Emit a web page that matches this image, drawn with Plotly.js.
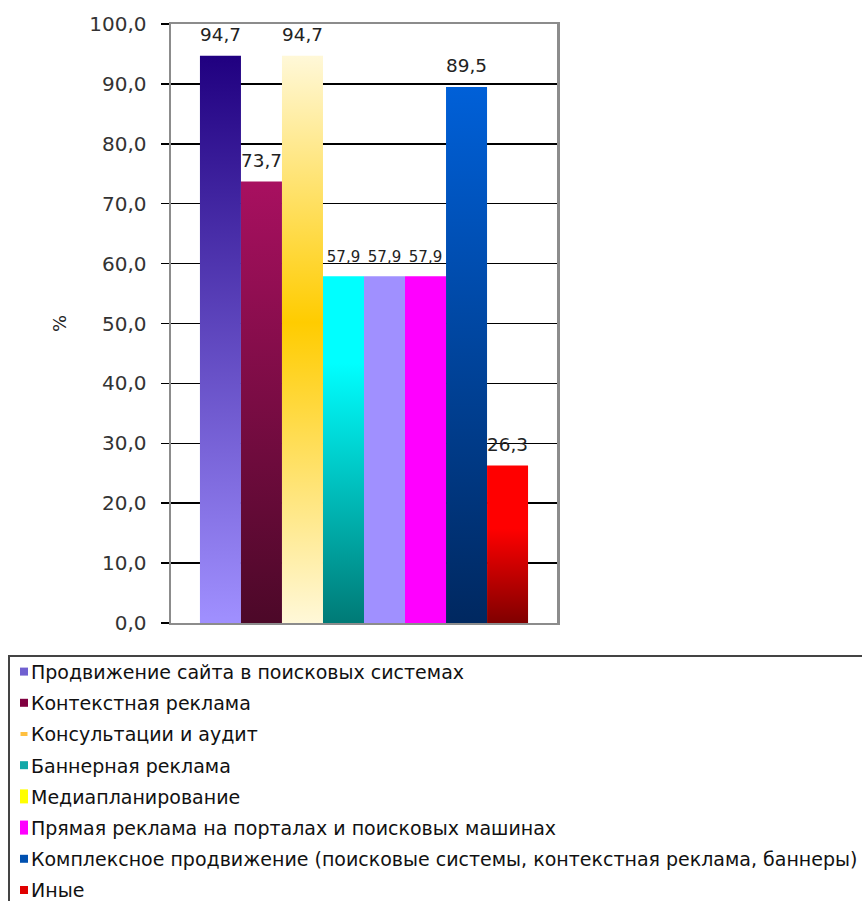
<!DOCTYPE html>
<html>
<head>
<meta charset="utf-8">
<script src="https://cdn.plot.ly/plotly-3.0.1.min.js"></script>
<style>
  html, body { margin: 0; padding: 0; background: #fff; overflow: hidden; }
  #chart { width: 862px; height: 901px; }
</style>
</head>
<body>
<div id="chart"></div>
<script>
// ---- data ----
const seriesNames = [
  "Продвижение сайта в поисковых системах",
  "Контекстная реклама",
  "Консультации и аудит",
  "Баннерная реклама",
  "Медиапланирование",
  "Прямая реклама на порталах и поисковых машинах",
  "Комплексное продвижение (поисковые системы, контекстная реклама, баннеры)",
  "Иные"
];
const seriesValues = [94.7, 73.7, 94.7, 57.9, 57.9, 57.9, 89.5, 26.3];
const yTickValues = [0, 10, 20, 30, 40, 50, 60, 70, 80, 90, 100];

// ---- styles ----
const baseColors = ["#6a58c8", "#8a1050", "#ffd84a", "#00c0c0", "#a090ff", "#ff00ff", "#0048a8", "#e00000"];
const legendColors = ["#7060d0", "#800040", "#ffc040", "#10a8a8", "#ffff00", "#ff00ff", "#0050b0", "#e00000"];
const gradientStops = [
  [[0, "#200080"], [1, "#a090ff"]],
  [[0, "#a81060"], [1, "#4c0828"]],
  [[0, "#fff8d8"], [0.47, "#ffcc00"], [1, "#fff8d8"]],
  [[0, "#00ffff"], [0.25, "#00ffff"], [1, "#007a76"]],
  [[0, "#a090ff"], [1, "#a090ff"]],
  [[0, "#ff00ff"], [1, "#ff00ff"]],
  [[0, "#0060d8"], [1, "#002860"]],
  [[0, "#ff0000"], [0.4, "#ff0000"], [1, "#800000"]]
];
const labelSizes = [20, 20, 20, 15, 15, 15, 20, 20];
const legendSymbols = [
  "M4,4H-4V-4H4Z", "M4,4H-4V-4H4Z", "M3.5,2H-3.5V-2H3.5Z", "M4,4H-4V-4H4Z",
  "M4,7H-4V-7H4Z", "M4,7H-4V-7H4Z", "M4,4H-4V-4H4Z", "M4,4H-4V-4H4Z"
];
// legend geometry in page pixels
const legendBox = { left: 8, top: 655 };
const legendFirstCenter = 672, legendStep = 31.2, legendTextLeft = 31, legendSymbolCenter = 24;

const traces = seriesNames.map((name, i) => ({
  type: "bar",
  name: name,
  x: ["cat"],
  y: [seriesValues[i]],
  marker: { color: baseColors[i], line: { width: 0 } },
  text: [seriesValues[i].toFixed(1).replace(".", ",")],
  textposition: "outside",
  cliponaxis: false,
  textfont: { family: "DejaVu Sans", size: labelSizes[i], color: "#222" },
  hoverinfo: "skip"
}));

const layout = {
  width: 862,
  height: 901,
  margin: { l: 168, r: 305, t: 24, b: 277 },
  paper_bgcolor: "#ffffff",
  plot_bgcolor: "#ffffff",
  barmode: "group",
  bargap: 0.15,
  bargroupgap: 0,
  separators: ", ",
  showlegend: true,
  font: { family: "DejaVu Sans", color: "#222" },
  xaxis: {
    showticklabels: false,
    ticks: "",
    showgrid: false,
    zeroline: false,
    showline: true,
    mirror: true,
    linecolor: "#8c8c8c",
    linewidth: 2,
    fixedrange: true
  },
  yaxis: {
    range: [0, 100],
    tickvals: yTickValues,
    tickformat: ".1f",
    ticks: "outside",
    ticklen: 8,
    tickcolor: "#000",
    tickwidth: 1.5,
    ticklabelstandoff: 10,
    tickfont: { family: "DejaVu Sans", size: 20, color: "#333" },
    showgrid: true,
    gridcolor: "#000",
    gridwidth: 1.5,
    zeroline: false,
    showline: true,
    mirror: true,
    linecolor: "#8c8c8c",
    linewidth: 2.5,
    title: { text: "%", font: { family: "DejaVu Sans", size: 18, color: "#222" }, standoff: 18 },
    fixedrange: true
  },
  legend: {
    orientation: "v",
    x: (8 - 168) / 389,
    xanchor: "left",
    y: (624 - 655) / 600,
    yanchor: "top",
    bgcolor: "#ffffff",
    bordercolor: "#444",
    borderwidth: 1.5,
    font: { family: "DejaVu Sans", size: 19, color: "#111" },
    traceorder: "normal"
  }
};

function svgEl(tag) { return document.createElementNS("http://www.w3.org/2000/svg", tag); }

function decorate(gd) {
  const svg = gd.querySelector("svg.main-svg");
  if (!svg) return;
  if (!svg.querySelector("defs#bar-grads")) {
    const defs = svgEl("defs");
    defs.setAttribute("id", "bar-grads");
    gradientStops.forEach((stops, i) => {
      const lg = svgEl("linearGradient");
      lg.setAttribute("id", "bargrad" + i);
      lg.setAttribute("x1", "0"); lg.setAttribute("y1", "0");
      lg.setAttribute("x2", "0"); lg.setAttribute("y2", "1");
      stops.forEach(([off, col]) => {
        const s = svgEl("stop");
        s.setAttribute("offset", off);
        s.setAttribute("stop-color", col);
        lg.appendChild(s);
      });
      defs.appendChild(lg);
    });
    svg.insertBefore(defs, svg.firstChild);
  }
  gd.querySelectorAll(".barlayer .trace").forEach((tr, i) => {
    tr.querySelectorAll(".point path").forEach(p => { p.style.fill = "url(#bargrad" + i + ")"; });
    tr.querySelectorAll("text.bartext").forEach(t => {
      if (!t.dataset.shifted) {
        t.setAttribute("transform", "translate(0,-7) " + (t.getAttribute("transform") || ""));
        t.dataset.shifted = "1";
      }
    });
  });

  const legend = gd.querySelector(".legend");
  if (!legend || legend.dataset.done) return;
  legend.dataset.done = "1";
  legend.querySelectorAll("[clip-path]").forEach(e => e.removeAttribute("clip-path"));
  legend.setAttribute("transform", "translate(" + legendBox.left + "," + legendBox.top + ")");
  legend.style.transform = "";
  const bg = legend.querySelector("rect.bg");
  bg.setAttribute("x", 0.75);
  bg.setAttribute("y", 0.75);
  bg.setAttribute("width", 1000);
  bg.setAttribute("height", 400);
  legend.querySelectorAll(".traces").forEach((lt, i) => {
    const txt = lt.querySelector("text.legendtext");
    const r = txt.getBoundingClientRect();
    const dy = (legendFirstCenter + i * legendStep) - (r.top + r.height / 2);
    lt.setAttribute("transform", (lt.getAttribute("transform") || "") + " translate(0," + dy + ")");
    const r2 = txt.getBoundingClientRect();
    txt.setAttribute("transform", "translate(" + (legendTextLeft - r2.left) + ",0)");
    const p = lt.querySelector(".legendpoints path");
    if (p) {
      p.style.fill = legendColors[i];
      p.style.stroke = "none";
      p.setAttribute("d", legendSymbols[i]);
      const pr = p.getBoundingClientRect();
      p.setAttribute("transform", (p.getAttribute("transform") || "") + " translate(" + (legendSymbolCenter - (pr.left + pr.width / 2)) + ",0)");
    }
  });
}

const gd = document.getElementById("chart");
Plotly.newPlot(gd, traces, layout, { displayModeBar: false, staticPlot: true }).then(() => {
  decorate(gd);
});
</script>
</body>
</html>
